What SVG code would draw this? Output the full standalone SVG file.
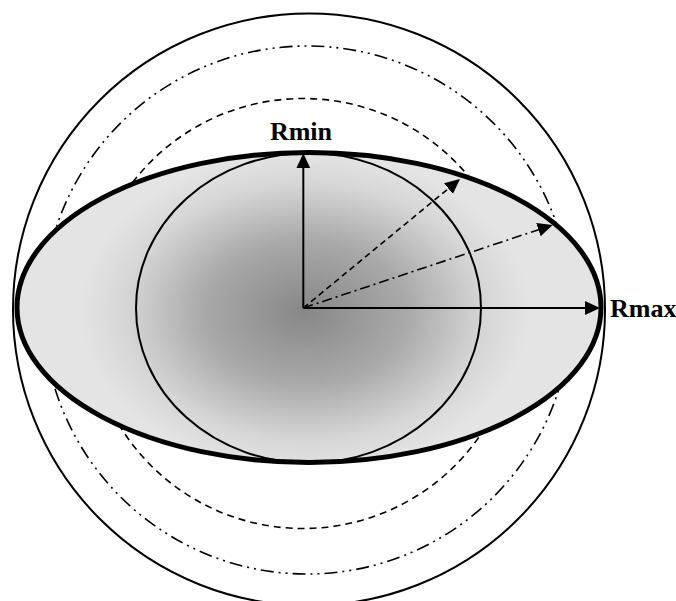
<svg xmlns="http://www.w3.org/2000/svg" width="676" height="601" viewBox="0 0 676 601">
  <style>
    .thin { fill: none; stroke: #000; stroke-width: 2; }
    .dash { fill: none; stroke: #000; stroke-width: 1.6; stroke-dasharray: 7 5; }
    .dashdotdot { fill: none; stroke: #000; stroke-width: 1.6; stroke-dasharray: 13 5 2 5 2 5; }
    .arrow { stroke: #000; stroke-width: 2; fill: none; marker-end: url(#head); }
    .arrow-dash { stroke: #000; stroke-width: 1.6; fill: none; stroke-dasharray: 6 4; marker-end: url(#head); }
    .arrow-dashdot { stroke: #000; stroke-width: 1.6; fill: none; stroke-dasharray: 10 4 2 4; marker-end: url(#head); }
    .label { font-family: "Liberation Serif", "Times New Roman", serif; font-weight: bold; font-size: 26px; fill: #000; }
  </style>
  <defs>
    <radialGradient id="shade" gradientUnits="userSpaceOnUse" cx="0" cy="0" r="1" gradientTransform="translate(305 312) scale(225 160)">
      <stop offset="0" stop-color="#878787"/>
      <stop offset="0.45" stop-color="#a9a9a9"/>
      <stop offset="0.8" stop-color="#d6d6d6"/>
      <stop offset="1" stop-color="#e4e4e4"/>
    </radialGradient>
    <marker id="head" markerUnits="userSpaceOnUse" markerWidth="16" markerHeight="16" refX="1" refY="7" orient="auto">
      <path d="M0,0 L15,7 L0,14 Z" fill="#000"/>
    </marker>
  </defs>

  <g id="outer-circle">
    <ellipse class="thin" cx="309" cy="309.5" rx="296" ry="296"/>
  </g>
  <g id="dashdot-circle">
    <circle class="dashdotdot" cx="307" cy="310" r="264"/>
  </g>
  <g id="dashed-circle">
    <circle class="dash" cx="303" cy="313.5" r="215"/>
  </g>
  <g id="ellipse">
    <ellipse cx="309" cy="307.5" rx="292" ry="155" fill="url(#shade)" stroke="#000" stroke-width="5"/>
  </g>
  <g id="inner-circle">
    <ellipse class="thin" cx="308.5" cy="308" rx="172.5" ry="155"/>
  </g>

  <g id="connectors">
    <line class="arrow" x1="303.3" y1="308" x2="303.3" y2="167.3"/>
    <line class="arrow" x1="303.3" y1="308" x2="586" y2="308"/>
    <line class="arrow-dash" x1="303.3" y1="308" x2="449.2" y2="187.9"/>
    <line class="arrow-dashdot" x1="303.3" y1="308" x2="539.4" y2="229.4"/>
  </g>

  <g id="label-rmin">
    <text class="label" x="301" y="140" text-anchor="middle">Rmin</text>
  </g>
  <g id="label-rmax">
    <text class="label" x="610" y="317">Rmax</text>
  </g>
</svg>
